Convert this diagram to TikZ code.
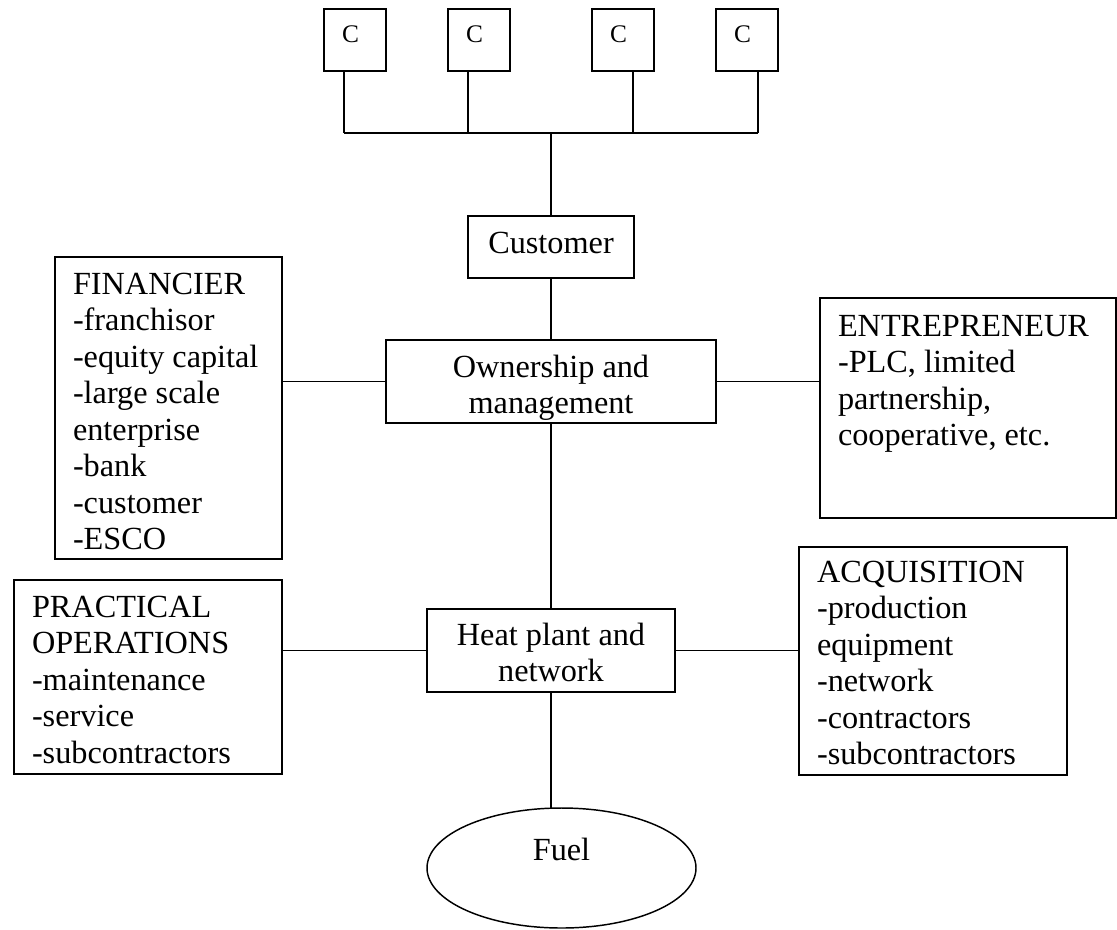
\documentclass[tikz,border=0pt]{standalone}
\usepackage{fontspec}
\setmainfont{Liberation Serif}
\usetikzlibrary{shapes.geometric}
\newlength\pxu \setlength\pxu{0.75pt}
\newcommand\mainsize{\fontsize{24.2pt}{27.4pt}\selectfont}
\newcommand\csize{\fontsize{19pt}{22pt}\selectfont}
% left-aligned text box: width, height, first-baseline drop, text
\newcommand\lbox[4]{\parbox[c][#2\pxu][t]{#1\pxu}{\mainsize\raggedright\leftskip=18\pxu\rule{0pt}{#3\pxu}#4}}
% centred text box
\newcommand\cbox[4]{\parbox[c][#2\pxu][t]{#1\pxu}{\mainsize\centering\rule{0pt}{#3\pxu}#4}}
% small C box
\newcommand\smallbox{\parbox[c][62\pxu][t]{62\pxu}{\csize\raggedright\leftskip=18\pxu\rule{0pt}{33\pxu}C}}
\begin{document}
\begin{tikzpicture}[x=0.75pt,y=-0.75pt,line width=1.1pt,
  bx/.style={draw, inner sep=0pt, outer sep=0pt, anchor=north west}]
\useasboundingbox (0,0) rectangle (1117,929);
% customer units
\node[bx] (c1) at (324,9) {\smallbox};
\node[bx] (c2) at (448,9) {\smallbox};
\node[bx] (c3) at (592,9) {\smallbox};
\node[bx] (c4) at (716,9) {\smallbox};
\coordinate (j1) at (344,133);
\coordinate (j2) at (468,133);
\coordinate (j3) at (633,133);
\coordinate (j4) at (758,133);
\coordinate (jm) at (551,133);
% main chain
\node[bx] (cust) at (468,216) {\cbox{166}{62}{37}{Customer}};
\node[bx] (own) at (386,340) {\cbox{330}{83}{37}{Ownership and\\management}};
\node[bx] (heat) at (427,609) {\cbox{248}{83}{36}{Heat plant and\\network}};
\node[ellipse, draw, inner sep=0pt, outer sep=0pt, minimum width=201.75pt, minimum height=90pt]
  (fuel) at (561.5,868) {\mainsize\raisebox{8\pxu}[0pt][0pt]{Fuel}};
% side boxes
\node[bx] (fin) at (55,257) {\lbox{227}{302}{37}{FINANCIER\\-franchisor\\-equity capital\\-large scale\\enterprise\\-bank\\-customer\\-ESCO}};
\node[bx] (ent) at (820,298) {\lbox{296}{220}{38}{ENTREPRENEUR\\-PLC, limited\\partnership,\\cooperative, etc.}};
\node[bx] (prac) at (14,580) {\lbox{268}{194}{37}{PRACTICAL\\OPERATIONS\\-maintenance\\-service\\-subcontractors}};
\node[bx] (acq) at (799,547) {\lbox{268}{228}{35}{ACQUISITION\\-production\\equipment\\-network\\-contractors\\-subcontractors}};
% connectors
\draw (c1.south -| j1) -- (j1);
\draw (c2.south -| j2) -- (j2);
\draw (c3.south -| j3) -- (j3);
\draw (c4.south -| j4) -- (j4);
\draw (j1) -- (j4);
\draw (cust.north) -- (cust.north |- jm);
\draw (cust.south) -- (own.north);
\draw (own.west) -- (own.west -| fin.east);
\draw (own.east) -- (own.east -| ent.west);
\draw (own.south) -- (heat.north);
\draw (heat.west) -- (heat.west -| prac.east);
\draw (heat.east) -- (heat.east -| acq.west);
\draw (heat.south) -- (heat.south |- fuel.north);
\end{tikzpicture}
\end{document}
